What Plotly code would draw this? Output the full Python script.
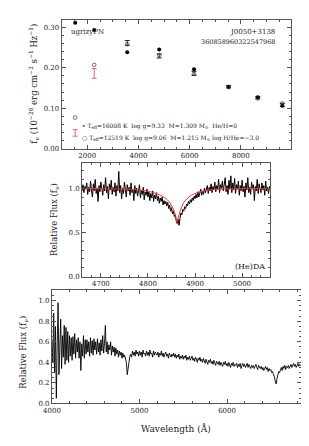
import numpy as np
import plotly.graph_objects as go

# ---------------- Panel 1: photometry ----------------
phot_wave = [1528, 2271, 3562, 4810, 6170, 7520, 8660, 9620]
model_h = [0.311, 0.293, 0.238, 0.245, 0.196, 0.153, 0.127, 0.106]      # filled dots
model_he = [0.077, 0.207, 0.258, 0.231, 0.185, 0.152, 0.124, 0.112]     # open circles
obs_wave = [3562, 4810, 6170, 7520, 8660, 9620]
obs_flux = [0.261, 0.229, 0.186, 0.153, 0.126, 0.108]
obs_err = [0.006, 0.005, 0.005, 0.003, 0.003, 0.004]
galex_wave = [1528, 2271]
galex_flux = [0.039, 0.186]
galex_err = [0.008, 0.012]

# ---------------- Panel 2: H-beta zoom ----------------
hb_start, hb_end = 4660, 5060
hb_flux = [
    0.97, 1.04, 0.95, 1.02, 0.99, 1.06, 0.93, 1.01, 0.96, 1.08,
    0.98, 0.90, 1.05, 0.97, 1.10, 0.94, 1.00, 0.85, 1.03, 0.96,
    1.07, 0.99, 0.92, 1.04, 0.97, 1.12, 0.95, 1.02, 0.88, 1.05,
    0.98, 1.09, 0.93, 1.01, 0.96, 1.06, 0.91, 1.03, 0.97, 1.19,
    0.95, 1.03, 0.88, 1.00, 0.94, 1.07, 0.96, 0.90, 1.04, 0.97,
    1.01, 0.92, 1.06, 0.95, 0.99, 0.86, 1.03, 0.94, 1.00, 0.91,
    0.97, 1.04, 0.89, 0.98, 0.93, 1.01, 0.87, 0.96, 0.92, 0.99,
    0.90, 0.96, 0.86, 0.94, 0.89, 0.97, 0.85, 0.92, 0.88, 0.95,
    0.86, 0.91, 0.83, 0.89, 0.85, 0.90, 0.81, 0.86, 0.82, 0.85,
    0.80, 0.84, 0.77, 0.81, 0.74, 0.78, 0.71, 0.74, 0.68, 0.70,
    0.63, 0.60, 0.65, 0.58, 0.66, 0.72, 0.70, 0.76, 0.74, 0.79,
    0.77, 0.82, 0.80, 0.85, 0.82, 0.87, 0.84, 0.89, 0.86, 0.91,
    0.88, 0.93, 0.89, 0.96, 0.90, 0.94, 0.99, 0.92, 0.97, 0.93,
    1.00, 0.95, 0.98, 1.03, 0.94, 1.01, 0.97, 1.05, 0.95, 1.02,
    0.98, 1.07, 0.96, 1.03, 0.99, 1.10, 0.95, 1.04, 1.00, 1.08,
    0.97, 1.05, 1.12, 0.96, 1.03, 0.93, 1.09, 0.99, 1.14, 0.95,
    1.06, 0.98, 1.11, 0.94, 1.04, 0.99, 1.08, 0.92, 1.03, 0.97,
    1.09, 0.96, 1.02, 0.90, 1.06, 0.98, 1.12, 0.95, 1.01, 0.93,
    1.07, 0.99, 1.04, 0.86, 1.02, 0.97, 1.10, 0.94, 1.05, 0.99,
    0.95, 1.06, 0.98, 1.03, 0.92, 1.08, 0.97, 1.01, 0.94, 1.02,
    0.99,
]
hb_model_wave = [4660, 4700, 4740, 4770, 4790, 4805, 4815, 4825, 4835, 4842, 4848,
                 4853, 4857, 4860, 4862, 4864, 4867, 4871, 4876, 4883, 4892, 4905,
                 4920, 4940, 4965, 5000, 5060]
hb_model_flux = [0.995, 0.995, 0.99, 0.985, 0.975, 0.96, 0.945, 0.925, 0.895, 0.865, 0.825,
                 0.775, 0.72, 0.66, 0.61, 0.66, 0.72, 0.78, 0.84, 0.88, 0.92, 0.95,
                 0.97, 0.985, 0.99, 0.995, 0.995]

# ---------------- Panel 3: full spectrum ----------------
sp_start, sp_end = 4000, 6850
sp_flux = [
    0.62, 0.40, 0.88, 0.30, 0.75, 0.05, 0.58, 0.98, 0.28, 0.70,
    0.82, 0.34, 0.66, 0.45, 0.76, 0.38, 0.74, 0.42, 0.70, 0.40,
    0.66, 0.46, 0.64, 0.42, 0.65, 0.48, 0.68, 0.44, 0.62, 0.50,
    0.64, 0.44, 0.60, 0.32, 0.58, 0.46, 0.66, 0.44, 0.62, 0.48,
    0.62, 0.50, 0.60, 0.46, 0.64, 0.49, 0.61, 0.47, 0.63, 0.52,
    0.60, 0.48, 0.63, 0.50, 0.59, 0.47, 0.62, 0.51, 0.66, 0.49,
    0.58, 0.76, 0.50, 0.60, 0.48, 0.57, 0.52, 0.60, 0.47, 0.56,
    0.50, 0.55, 0.46, 0.54, 0.48, 0.52, 0.45, 0.51, 0.47, 0.50,
    0.44, 0.49, 0.45, 0.47, 0.42, 0.40, 0.28, 0.36, 0.42, 0.46,
    0.48, 0.45, 0.51, 0.47, 0.50, 0.46, 0.52, 0.48, 0.50, 0.46,
    0.51, 0.47, 0.50, 0.45, 0.52, 0.48, 0.49, 0.46, 0.51, 0.47,
    0.50, 0.46, 0.52, 0.48, 0.49, 0.45, 0.51, 0.47, 0.50, 0.48,
    0.47, 0.50, 0.45, 0.49, 0.47, 0.51, 0.46, 0.49, 0.45, 0.48,
    0.50, 0.46, 0.48, 0.44, 0.49, 0.47, 0.45, 0.48, 0.46, 0.49,
    0.45, 0.48, 0.44, 0.47, 0.45, 0.48, 0.43, 0.46, 0.44, 0.47,
    0.43, 0.46, 0.44, 0.47, 0.42, 0.45, 0.43, 0.46, 0.42, 0.44,
    0.46, 0.42, 0.44, 0.41, 0.45, 0.43, 0.40, 0.44, 0.42, 0.45,
    0.41, 0.43, 0.40, 0.44, 0.42, 0.39, 0.43, 0.41, 0.38, 0.42,
    0.40, 0.43, 0.39, 0.41, 0.38, 0.42, 0.40, 0.37, 0.41, 0.39,
    0.38, 0.41, 0.37, 0.40, 0.38, 0.36, 0.40, 0.38, 0.41, 0.37,
    0.39, 0.36, 0.40, 0.38, 0.35, 0.39, 0.37, 0.40, 0.36, 0.38,
    0.37, 0.39, 0.35, 0.38, 0.36, 0.39, 0.34, 0.37, 0.39, 0.36,
    0.38, 0.35, 0.37, 0.39, 0.35, 0.38, 0.36, 0.34, 0.37, 0.35,
    0.37, 0.34, 0.36, 0.38, 0.35, 0.33, 0.37, 0.35, 0.34, 0.36,
    0.33, 0.35, 0.32, 0.34, 0.36, 0.33, 0.35, 0.31, 0.34, 0.32,
    0.33, 0.30, 0.31, 0.28, 0.26, 0.22, 0.19, 0.24, 0.28, 0.31,
    0.30, 0.33, 0.35, 0.32, 0.36, 0.34, 0.37, 0.33, 0.36, 0.35,
    0.37, 0.34, 0.36, 0.38, 0.35, 0.37, 0.39, 0.36, 0.38, 0.35,
    0.37, 0.39, 0.36, 0.38, 0.37, 0.38,
]

hb_wave = np.linspace(hb_start, hb_end, len(hb_flux))
sp_wave = np.linspace(sp_start, sp_end, len(sp_flux))

FONT = "DejaVu Serif"
W, H = 309, 446

fig = go.Figure()

# Panel 1
fig.add_trace(go.Scatter(x=obs_wave, y=obs_flux, mode="markers",
                         marker=dict(size=1, color="rgba(0,0,0,0)"),
                         error_y=dict(type="data", array=obs_err, color="#222",
                                      thickness=1, width=2.5),
                         xaxis="x", yaxis="y", showlegend=False))
fig.add_trace(go.Scatter(x=galex_wave, y=galex_flux, mode="markers",
                         marker=dict(size=1, color="rgba(0,0,0,0)"),
                         error_y=dict(type="data", array=galex_err, color="#f06060",
                                      thickness=1, width=2.5),
                         xaxis="x", yaxis="y", showlegend=False))
fig.add_trace(go.Scatter(x=phot_wave, y=model_h, mode="markers",
                         marker=dict(size=4, color="black"),
                         xaxis="x", yaxis="y", showlegend=False))
fig.add_trace(go.Scatter(x=phot_wave, y=model_he, mode="markers",
                         marker=dict(size=3.6, color="#333", symbol="circle-open",
                                     line=dict(color="#333", width=0.7)),
                         xaxis="x", yaxis="y", showlegend=False))

# Panel 2
fig.add_trace(go.Scatter(x=hb_wave, y=hb_flux, mode="lines",
                         line=dict(color="black", width=1),
                         xaxis="x2", yaxis="y2", showlegend=False))
fig.add_trace(go.Scatter(x=hb_model_wave, y=hb_model_flux, mode="lines",
                         line=dict(color="#ff3030", width=1, shape="spline"),
                         xaxis="x2", yaxis="y2", showlegend=False))

# Panel 3
fig.add_trace(go.Scatter(x=sp_wave, y=sp_flux, mode="lines",
                         line=dict(color="black", width=0.9),
                         xaxis="x3", yaxis="y3", showlegend=False))


def px_x(p):
    return p / W


def px_y(p):
    return 1 - p / H


axis_common = dict(showline=True, linecolor="#555", linewidth=1, mirror="allticks",
                   ticks="inside", ticklen=4, tickcolor="#555", showgrid=False,
                   zeroline=False, tickfont=dict(family=FONT, size=7, color="#222"))

fig.update_layout(
    width=W, height=H, margin=dict(l=0, r=0, t=0, b=0),
    paper_bgcolor="white", plot_bgcolor="white",
    font=dict(family=FONT, color="#222"),
    xaxis=dict(domain=[px_x(46), px_x(282)], range=[1000, 9950], anchor="y",
               dtick=2000, tickformat="d",
               minor=dict(ticks="inside", ticklen=2, dtick=500, tickcolor="#555"),
               **axis_common),
    yaxis=dict(domain=[px_y(142), px_y(12)], range=[0, 0.318], anchor="x",
               dtick=0.1, tickformat=".2f",
               minor=dict(ticks="inside", ticklen=2, dtick=0.02, tickcolor="#555"),
               **axis_common),
    xaxis2=dict(domain=[px_x(67), px_x(261)], range=[hb_start, hb_end], anchor="y2",
                dtick=100, tickformat="d",
                minor=dict(ticks="inside", ticklen=2, dtick=20, tickcolor="#555"),
                **axis_common),
    yaxis2=dict(domain=[px_y(271), px_y(156)], range=[0, 1.29], anchor="x2",
                dtick=0.5, tickformat=".1f",
                minor=dict(ticks="inside", ticklen=2, dtick=0.1, tickcolor="#555"),
                **axis_common),
    xaxis3=dict(domain=[px_x(36), px_x(293)], range=[sp_start, sp_end], anchor="y3",
                dtick=1000, tickformat="d",
                minor=dict(ticks="inside", ticklen=2, dtick=200, tickcolor="#555"),
                **axis_common),
    yaxis3=dict(domain=[px_y(399), px_y(285)], range=[0, 1.1], anchor="x3",
                dtick=0.2, tickformat=".1f",
                minor=dict(ticks="inside", ticklen=2, dtick=0.05, tickcolor="#555"),
                **axis_common),
)

ann = []


def note(text, x, y, size, xanchor="left", yanchor="middle", angle=0, color="#222"):
    ann.append(dict(text=text, x=x, y=y, xref="paper", yref="paper", showarrow=False,
                    xanchor=xanchor, yanchor=yanchor, textangle=angle,
                    font=dict(family=FONT, size=size, color=color)))


note("ugrizyPN", px_x(54), px_y(24), 7)
note("J0050+3138", px_x(268), px_y(24), 7, xanchor="right")
note("360858960322547968", px_x(268), px_y(34), 6.5, xanchor="right")
note("• T<sub>eff</sub>=16008 K  log g=9.33  M=1.309 M<sub>⊙</sub>  He/H=0",
     px_x(65), px_y(119), 6)
note("○ T<sub>eff</sub>=12519 K  log g=9.06  M=1.215 M<sub>⊙</sub> log H/He=−3.0",
     px_x(65), px_y(131), 6)
note("f<sub>ν</sub> (10<sup>−26</sup> erg cm<sup>−2</sup> s<sup>−1</sup> Hz<sup>−1</sup>)",
     px_x(17), px_y(77), 8.5, xanchor="center", angle=-90)
note("Relative Flux (f<sub>ν</sub>)", px_x(38), px_y(213), 8.5, xanchor="center", angle=-90)
note("(He)DA", px_x(257), px_y(261), 8, xanchor="right")
note("Relative Flux (f<sub>ν</sub>)", px_x(7), px_y(347), 8.5, xanchor="center", angle=-90)
note("Wavelength (Å)", px_x(164), px_y(424), 9, xanchor="center")

fig.update_layout(annotations=ann)
fig.write_html("out.html")
